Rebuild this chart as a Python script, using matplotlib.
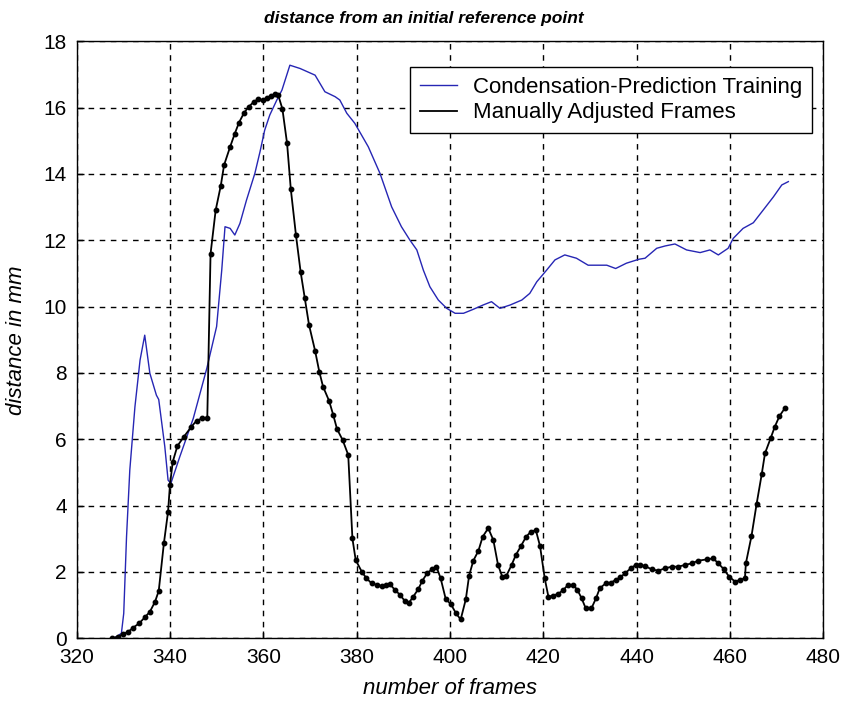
import matplotlib
matplotlib.use('Agg')
import matplotlib.pyplot as plt

plt.rcParams['font.family'] = ['Liberation Sans', 'DejaVu Sans']

# blue curve: condensation-prediction training
cond_x = [328.0, 329.6, 330.1, 330.7, 331.4, 332.5, 333.6, 334.6, 335.7, 337.1, 337.6,
          338.9, 339.6, 340.2, 342.1, 345.0, 347.9, 350.0, 351.1, 351.8, 352.9, 353.9,
          355.0, 356.4, 358.2, 359.3, 360.3, 361.4, 362.9, 364.0, 365.7, 367.9, 371.1,
          373.2, 375.4, 376.4, 377.9, 379.6, 382.5, 385.0, 387.5, 389.6, 391.4, 392.9,
          394.3, 395.7, 397.5, 399.3, 401.1, 402.9, 405.0, 407.1, 408.9, 410.7, 412.9,
          415.4, 417.1, 418.6, 420.7, 422.5, 424.6, 427.1, 429.6, 433.6, 435.5, 437.8,
          440.5, 441.8, 444.3, 446.1, 448.2, 450.7, 453.6, 455.7, 457.5, 459.6, 460.7,
          462.8, 465.0, 467.1, 469.3, 471.1, 472.5]
cond_y = [0.0, 0.15, 0.75, 3.06, 5.07, 6.98, 8.39, 9.14, 7.99, 7.33, 7.2,
          5.78, 4.77, 4.67, 5.47, 6.63, 8.14, 9.4, 11.1, 12.41, 12.36, 12.16,
          12.51, 13.21, 14.02, 14.67, 15.32, 15.78, 16.23, 16.53, 17.28, 17.18, 16.98,
          16.48, 16.33, 16.23, 15.83, 15.53, 14.82, 14.02, 13.01, 12.41, 12.01, 11.71,
          11.10, 10.6, 10.2, 9.95, 9.80, 9.80, 9.92, 10.05, 10.15, 9.95, 10.05,
          10.2, 10.4, 10.75, 11.10, 11.41, 11.56, 11.46, 11.25, 11.25, 11.15, 11.31,
          11.43, 11.46, 11.76, 11.83, 11.89, 11.71, 11.63, 11.71, 11.56, 11.76, 12.06,
          12.36, 12.53, 12.91, 13.31, 13.67, 13.77]

# black curve: manually adjusted frames
man_x = [327.5, 328.9, 330.0, 331.1, 332.1, 333.4, 334.6, 335.7, 336.8, 337.6, 338.7,
         339.6, 340.0, 340.6, 341.6, 343.0, 344.6, 345.7, 346.9, 348.0, 348.7, 349.8,
         350.9, 351.6, 352.9, 353.9, 354.8, 355.9, 356.9, 358.0, 358.9, 360.0, 360.9,
         361.6, 362.5, 363.2, 364.1, 365.1, 365.9, 367.0, 368.0, 368.9, 369.8, 371.1,
         372.0, 372.8, 374.1, 375.0, 375.8, 377.0, 378.2, 379.1, 379.8, 381.1, 382.1,
         383.2, 384.3, 385.4, 386.4, 387.1, 388.2, 389.3, 390.3, 391.2, 392.1, 393.2,
         394.1, 395.1, 396.2, 397.1, 398.0, 399.1, 400.2, 401.3, 402.3, 403.4, 404.1,
         405.0, 406.1, 407.0, 408.2, 409.3, 410.3, 411.2, 412.1, 413.2, 414.1, 415.2,
         416.3, 417.3, 418.4, 419.3, 420.3, 421.1, 422.1, 423.2, 424.3, 425.3, 426.4,
         427.3, 428.2, 429.1, 430.3, 431.3, 432.1, 433.4, 434.5, 435.5, 436.5, 437.6,
         438.8, 439.8, 440.7, 441.8, 443.2, 444.6, 446.1, 447.5, 448.9, 450.3, 451.8,
         453.2, 455.0, 456.4, 457.5, 458.7, 459.8, 461.1, 462.1, 463.2, 463.4, 464.6,
         465.7, 466.8, 467.5, 468.7, 469.6, 470.6, 471.8]
man_y = [0.0, 0.05, 0.13, 0.2, 0.32, 0.45, 0.63, 0.80, 1.10, 1.43, 2.86,
         3.82, 4.62, 5.32, 5.80, 6.08, 6.38, 6.56, 6.63, 6.63, 11.59, 12.91,
         13.65, 14.27, 14.82, 15.22, 15.55, 15.85, 16.03, 16.18, 16.25, 16.23, 16.28,
         16.36, 16.40, 16.38, 15.96, 14.92, 13.54, 12.16, 11.05, 10.25, 9.45, 8.67,
         8.04, 7.59, 7.16, 6.73, 6.31, 5.98, 5.53, 3.01, 2.36, 2.01, 1.81,
         1.66, 1.61, 1.58, 1.61, 1.64, 1.46, 1.31, 1.13, 1.07, 1.25, 1.48,
         1.74, 1.96, 2.09, 2.16, 1.81, 1.18, 1.03, 0.75, 0.57, 1.18, 1.89,
         2.34, 2.64, 3.06, 3.32, 2.96, 2.21, 1.86, 1.89, 2.21, 2.51, 2.78,
         3.06, 3.21, 3.26, 2.78, 1.81, 1.25, 1.29, 1.34, 1.46, 1.61, 1.61,
         1.46, 1.21, 0.90, 0.90, 1.21, 1.51, 1.66, 1.68, 1.76, 1.84, 1.97,
         2.12, 2.21, 2.21, 2.18, 2.08, 2.04, 2.11, 2.16, 2.16, 2.21, 2.26,
         2.34, 2.38, 2.41, 2.26, 2.08, 1.86, 1.71, 1.76, 1.81, 2.26, 3.08,
         4.05, 4.95, 5.58, 6.03, 6.38, 6.70, 6.95]

xticks = list(range(320, 481, 20))
yticks = list(range(0, 19, 2))

fig = plt.figure(figsize=(8.51, 7.04), dpi=100)
ax = fig.add_axes([0.090, 0.0933, 0.8775, 0.848])

ax.plot(cond_x, cond_y, color='#2626b4', linewidth=1.0,
        label='Condensation-Prediction Training')
ax.plot(man_x, man_y, color='black', linewidth=1.3, marker='o', markersize=3.2,
        label='Manually Adjusted Frames')

ax.set_xlim(320, 480)
ax.set_ylim(0, 18)
ax.set_xticks(xticks)
ax.set_yticks(yticks)
ax.tick_params(direction='in', labelsize=15, length=5, width=1, pad=7)
ax.grid(True, color='black', linestyle=(0, (4, 4)), linewidth=1.0)
for s in ax.spines.values():
    s.set_linewidth(1.0)

ax.set_title('distance from an initial reference point', fontsize=12.5,
             fontweight='bold', style='italic', pad=13, x=0.465)
ax.set_xlabel('number of frames', fontsize=16, style='italic', labelpad=8)
ax.set_ylabel('distance in mm', fontsize=16, style='italic', labelpad=12)

leg = ax.legend(loc='upper right', bbox_to_anchor=(0.985, 0.957), fontsize=16,
                fancybox=False, framealpha=1, edgecolor='black', handlelength=1.7,
                handletextpad=0.7, borderaxespad=0, borderpad=0.45,
                labelspacing=0.2)
leg.get_frame().set_linewidth(1.0)
for h in leg.legend_handles:
    h.set_marker('')

fig.savefig('out.png', dpi=100)
